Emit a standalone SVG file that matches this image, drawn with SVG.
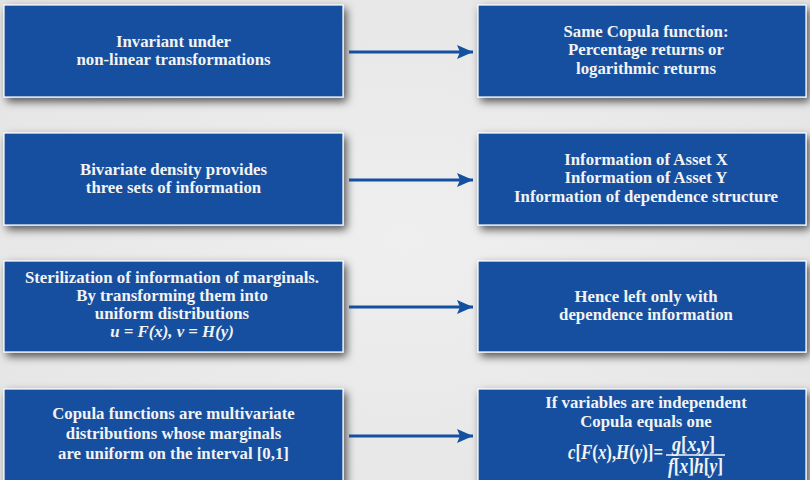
<svg xmlns="http://www.w3.org/2000/svg" width="810" height="480" viewBox="0 0 810 480">
  <defs>
    <radialGradient id="bg" cx="50%" cy="50%" r="70%">
      <stop offset="0" stop-color="#efefef"/>
      <stop offset="1" stop-color="#e4e4e4"/>
    </radialGradient>
    <filter id="shadow" x="-10%" y="-20%" width="120%" height="150%">
      <feDropShadow dx="3" dy="4" stdDeviation="4" flood-color="#000" flood-opacity="0.65"/>
    </filter>
    <marker id="head" viewBox="0 0 16 14" refX="16" refY="7" markerWidth="16" markerHeight="14" markerUnits="userSpaceOnUse" orient="auto">
      <path d="M0,0 L16,7 L0,14 L3,7 Z" fill="#1450a0"/>
    </marker>
  </defs>
  <style>
    .box { fill: #13509f; stroke: #ffffff; stroke-width: 1.2; filter: url(#shadow); }
    .t { font-family: "Liberation Serif", "Times New Roman", serif; font-weight: bold; font-size: 16.8px; fill: #f3f3f3; text-anchor: middle; }
    .it { font-style: italic; }
    .eq { font-size: 20px; text-anchor: start; }
    .arrow { stroke: #1450a0; stroke-width: 3; fill: none; marker-end: url(#head); }
  </style>

  <rect width="810" height="480" fill="url(#bg)"/>

  <!-- row 1 -->
  <g id="n-invariant">
    <rect class="box" x="4" y="5" width="339" height="92"/>
    <text class="t" x="173.5" y="47">Invariant under</text>
    <text class="t" x="173.5" y="65">non-linear transformations</text>
  </g>
  <g id="n-same-copula">
    <rect class="box" x="478" y="5" width="328" height="92"/>
    <text class="t" x="646" y="37">Same Copula function:</text>
    <text class="t" x="646" y="55">Percentage returns or</text>
    <text class="t" x="646" y="74">logarithmic returns</text>
  </g>

  <!-- row 2 -->
  <g id="n-bivariate">
    <rect class="box" x="4" y="133" width="339" height="92"/>
    <text class="t" x="173.5" y="175">Bivariate density provides</text>
    <text class="t" x="173.5" y="193">three sets of information</text>
  </g>
  <g id="n-information">
    <rect class="box" x="478" y="133" width="328" height="92"/>
    <text class="t" x="646" y="165">Information of Asset X</text>
    <text class="t" x="646" y="183">Information of Asset Y</text>
    <text class="t" x="646" y="202">Information of dependence structure</text>
  </g>

  <!-- row 3 -->
  <g id="n-sterilization">
    <rect class="box" x="4" y="261" width="339" height="91"/>
    <text class="t" x="172" y="283">Sterilization of information of marginals.</text>
    <text class="t" x="172" y="301">By transforming them into</text>
    <text class="t" x="172" y="319">uniform distributions</text>
    <text class="t it" x="172" y="337">u = F(x), v = H(y)</text>
  </g>
  <g id="n-dependence">
    <rect class="box" x="478" y="261" width="328" height="91"/>
    <text class="t" x="646" y="302">Hence left only with</text>
    <text class="t" x="646" y="320">dependence information</text>
  </g>

  <!-- row 4 -->
  <g id="n-copula-def">
    <rect class="box" x="4" y="389" width="339" height="100"/>
    <text class="t" x="173.5" y="419">Copula functions are multivariate</text>
    <text class="t" x="173.5" y="439">distributions whose marginals</text>
    <text class="t" x="173.5" y="459">are uniform on the interval [0,1]</text>
  </g>
  <g id="n-independent">
    <rect class="box" x="478" y="389" width="328" height="100"/>
    <text class="t" x="646" y="408">If variables are independent</text>
    <text class="t" x="646" y="427">Copula equals one</text>
    <text class="t eq" x="568" y="459" textLength="95" lengthAdjust="spacingAndGlyphs"><tspan class="it">c</tspan>[<tspan class="it">F</tspan>(<tspan class="it">x</tspan>),<tspan class="it">H</tspan>(<tspan class="it">y</tspan>)]=</text>
    <text class="t eq" x="672" y="451" textLength="43" lengthAdjust="spacingAndGlyphs"><tspan class="it">g</tspan>[<tspan class="it">x</tspan>,<tspan class="it">y</tspan>]</text>
    <line x1="666" y1="455" x2="725" y2="455" stroke="#f3f3f3" stroke-width="1.6"/>
    <text class="t eq" x="668" y="473" textLength="55" lengthAdjust="spacingAndGlyphs"><tspan class="it">f</tspan>[<tspan class="it">x</tspan>]<tspan class="it">h</tspan>[<tspan class="it">y</tspan>]</text>
  </g>

  <!-- connectors -->
  <g id="connectors">
    <line class="arrow" x1="349" y1="52" x2="473" y2="52"/>
    <line class="arrow" x1="349" y1="180" x2="473" y2="180"/>
    <line class="arrow" x1="349" y1="307" x2="473" y2="307"/>
    <line class="arrow" x1="349" y1="436" x2="473" y2="436"/>
  </g>
</svg>
